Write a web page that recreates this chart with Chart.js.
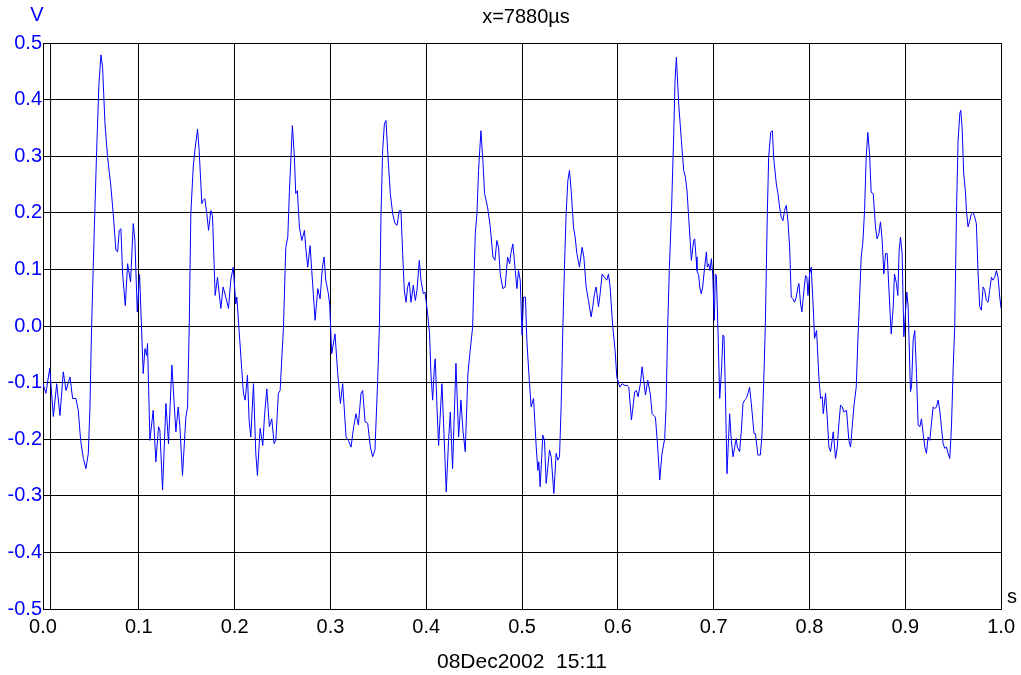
<!DOCTYPE html>
<html lang="en">
<head>
    <meta charset="UTF-8">
    <title>Scope trace</title>
    <script src="https://cdn.jsdelivr.net/npm/chart.js"></script>
    <style>
        body { margin: 0; background: #fff; }
    </style>
</head>
<body>
    <div style="width: 1021px; height: 675px;">
        <canvas id="grafico1" width="1021" height="675"></canvas>
    </div>

    <script>
        // time in seconds, voltage in volts
        const timeS = [
          0.000,0.003,0.0070,0.0108,0.0143,0.0177,0.0212,0.0240,0.0282,0.0309,0.0344,0.0368,0.0393,0.0421,0.0448,0.0473,0.0490,0.0507,0.0532,0.0560,0.0584,0.0605,0.0622,0.0647,0.0674,0.0706,0.0733,0.0761,0.0779,0.0796,0.0813,0.0831,0.0859,0.0883,0.0914,0.0942,0.0959,0.0984,0.1008,
          0.1046,0.1064,0.1081,0.1091,0.1116,0.1150,0.1178,0.1206,0.1220,0.1248,0.1283,0.1310,0.1345,0.1387,0.1411,0.1429,0.1456,0.1491,0.1509,0.1526,0.1543,0.1568,0.1585,0.1613,0.1630,0.1658,0.1672,0.1689,0.1710,0.1728,0.1752,0.1769,0.1797,0.1821,0.1856,0.1880,0.1908,0.1936,0.1960,0.1985,
          0.2012,0.2023,0.2047,0.2075,0.2092,0.2110,0.2134,0.2151,0.2169,0.2197,0.2221,0.2238,0.2266,0.2294,0.2311,0.2336,0.2363,0.2388,0.2412,0.2430,0.2457,0.2475,0.2510,0.2534,0.2555,0.2572,0.2603,0.2624,0.2638,0.2655,0.2676,0.2701,0.2729,0.2742,0.2763,0.2788,0.2805,0.2840,0.2868,0.2892,0.2916,0.2934,0.2951,0.2979,0.2993,
          0.3013,0.3048,0.3076,0.3104,0.3128,0.3163,0.3187,0.3215,0.3243,0.3267,0.3292,0.3319,0.3337,0.3361,0.3389,0.3417,0.3441,0.3465,0.3493,0.3511,0.3528,0.3545,0.3563,0.3580,0.3597,0.3625,0.3650,0.3674,0.3695,0.3719,0.3736,0.3754,0.3771,0.3789,0.3806,0.3823,0.3841,0.3865,0.3886,0.3903,0.3928,0.3945,0.3969,0.3987,
          0.4014,0.4035,0.4049,0.4067,0.4084,0.4094,0.4112,0.4129,0.4164,0.4181,0.4209,0.4233,0.4251,0.4275,0.4310,0.4338,0.4362,0.4383,0.4407,0.4435,0.4459,0.4484,0.4512,0.4529,0.4546,0.4571,0.4591,0.4609,0.4640,0.4668,0.4696,0.4717,0.4737,0.4755,0.4772,0.4800,0.4824,0.4849,0.4870,0.4883,0.4904,0.4929,0.4946,0.4963,0.4981,
          0.5000,0.5015,0.5036,0.5050,0.5071,0.5095,0.5120,0.5148,0.5165,0.5175,0.5189,0.5217,0.5234,0.5252,0.5287,0.5304,0.5332,0.5356,0.5373,0.5391,0.5408,0.5426,0.5443,0.5460,0.5478,0.5495,0.5513,0.5537,0.5554,0.5572,0.5599,0.5627,0.5645,0.5669,0.5693,0.5721,0.5738,0.5756,0.5773,0.5798,0.5815,0.5836,0.5860,0.5884,0.5902,0.5919,0.5947,0.5971,0.5989,
          0.6020,0.6044,0.6072,0.6096,0.6114,0.6142,0.6176,0.6194,0.6211,0.6235,0.6253,0.6270,0.6288,0.6312,0.6340,0.6357,0.6392,0.6416,0.6437,0.6461,0.6489,0.6503,0.6520,0.6538,0.6559,0.6583,0.6597,0.6611,0.6635,0.6663,0.6687,0.6705,0.6722,0.6739,0.6757,0.6767,0.6791,0.6802,0.6816,0.6826,0.6844,0.6854,0.6871,0.6885,0.6906,0.6924,0.6934,0.6948,0.6962,0.6976,0.6990,0.7007,
          0.7017,0.7028,0.7045,0.7063,0.7080,0.7097,0.7108,0.7122,0.7139,0.7167,0.7184,0.7202,0.7219,0.7236,0.7247,0.7271,0.7289,0.7306,0.7323,0.7341,0.7358,0.7375,0.7393,0.7421,0.7435,0.7462,0.7487,0.7504,0.7525,0.7539,0.7560,0.7574,0.7595,0.7612,0.7629,0.7654,0.7671,0.7688,0.7706,0.7723,0.7740,0.7758,0.7775,0.7793,0.7810,0.7827,0.7845,0.7862,0.7880,0.7890,0.7907,0.7921,0.7942,0.7959,0.7973,0.7984,0.8001,
          0.8018,0.8039,0.8053,0.8074,0.8098,0.8116,0.8133,0.8144,0.8168,0.8185,0.8203,0.8220,0.8248,0.8272,0.8290,0.8307,0.8324,0.8342,0.8359,0.8387,0.8411,0.8429,0.8446,0.8463,0.8488,0.8505,0.8522,0.8540,0.8557,0.8575,0.8592,0.8609,0.8627,0.8644,0.8665,0.8689,0.8706,0.8724,0.8741,0.8759,0.8776,0.8794,0.8811,0.8828,0.8853,0.8874,0.8887,0.8908,0.8922,0.8936,0.8950,0.8967,0.8985,
          0.9016,0.9030,0.9054,0.9065,0.9082,0.9099,0.9117,0.9134,0.9152,0.9169,0.9186,0.9204,0.9221,0.9238,0.9256,0.9273,0.9291,0.9308,0.9325,0.9343,0.9360,0.9377,0.9395,0.9412,0.9430,0.9447,0.9464,0.9482,0.9499,0.9516,0.9534,0.9551,0.9569,0.9579,0.9593,0.9610,0.9627,0.9638,0.9655,0.9673,0.9690,0.9708,0.9725,0.9742,0.9760,0.9777,0.9794,0.9812,0.9829,0.9846,0.9864,0.9881,0.9899,0.9916,0.9933,0.9951,0.9968,0.9986,1.0000
        ]
        const voltV = [
          -0.102,-0.119,-0.075,-0.160,-0.102,-0.158,-0.081,-0.114,-0.090,-0.128,-0.128,-0.149,-0.202,-0.234,-0.252,-0.225,-0.143,-0.002,0.151,0.310,0.428,0.479,0.457,0.357,0.298,0.251,0.198,0.134,0.131,0.169,0.172,0.092,0.036,0.110,0.078,0.181,0.151,0.025,0.091,
          -0.084,-0.040,-0.052,-0.031,-0.202,-0.149,-0.240,-0.178,-0.184,-0.290,-0.137,-0.208,-0.069,-0.187,-0.143,-0.178,-0.264,-0.161,-0.143,-0.002,0.198,0.281,0.310,0.348,0.310,0.216,0.222,0.225,0.198,0.169,0.204,0.195,0.054,0.086,0.031,0.069,0.051,0.031,0.081,0.104,
          0.039,0.051,-0.008,-0.078,-0.119,-0.131,-0.087,-0.166,-0.196,-0.102,-0.225,-0.264,-0.181,-0.211,-0.161,-0.111,-0.178,-0.164,-0.208,-0.202,-0.119,-0.114,-0.002,0.139,0.157,0.239,0.354,0.298,0.234,0.239,0.175,0.151,0.169,0.139,0.104,0.142,0.098,0.010,0.066,0.048,0.104,0.122,0.081,0.057,0.036,
          -0.049,-0.014,-0.084,-0.137,-0.102,-0.196,-0.202,-0.214,-0.178,-0.155,-0.175,-0.119,-0.114,-0.169,-0.172,-0.214,-0.231,-0.219,-0.096,-0.002,0.198,0.310,0.357,0.363,0.310,0.234,0.198,0.181,0.178,0.204,0.204,0.128,0.063,0.042,0.069,0.078,0.042,0.072,0.045,0.063,0.116,0.081,0.057,0.060,
          0.022,-0.014,-0.084,-0.131,-0.075,-0.058,-0.143,-0.211,-0.102,-0.172,-0.293,-0.202,-0.152,-0.252,-0.066,-0.196,-0.131,-0.184,-0.222,-0.084,-0.043,-0.002,0.163,0.198,0.275,0.345,0.292,0.234,0.210,0.175,0.122,0.116,0.151,0.139,0.092,0.066,0.069,0.122,0.110,0.128,0.145,0.098,0.066,0.098,0.081,
          -0.016,0.051,0.051,-0.025,-0.084,-0.143,-0.128,-0.214,-0.255,-0.240,-0.284,-0.193,-0.202,-0.278,-0.219,-0.231,-0.296,-0.225,-0.237,-0.231,-0.143,-0.002,0.104,0.198,0.257,0.275,0.239,0.175,0.157,0.128,0.104,0.139,0.122,0.069,0.045,0.016,0.034,0.057,0.069,0.034,0.057,0.092,0.086,0.081,0.092,0.069,-0.002,-0.043,-0.090,
          -0.108,-0.102,-0.105,-0.105,-0.108,-0.166,-0.116,-0.114,-0.125,-0.102,-0.072,-0.096,-0.122,-0.096,-0.122,-0.155,-0.161,-0.214,-0.272,-0.225,-0.199,-0.143,-0.002,0.104,0.198,0.339,0.434,0.475,0.392,0.328,0.275,0.263,0.239,0.192,0.145,0.116,0.151,0.154,0.122,0.098,0.089,0.069,0.057,0.069,0.104,0.131,0.104,0.110,0.098,0.119,0.092,0.010,
          0.092,0.089,-0.008,-0.128,-0.084,-0.016,-0.019,-0.114,-0.261,-0.155,-0.202,-0.231,-0.214,-0.199,-0.214,-0.222,-0.184,-0.137,-0.131,-0.128,-0.119,-0.108,-0.137,-0.190,-0.190,-0.228,-0.228,-0.193,-0.084,-0.002,0.198,0.298,0.342,0.345,0.292,0.251,0.234,0.210,0.192,0.186,0.204,0.213,0.186,0.139,0.051,0.048,0.042,0.051,0.069,0.075,0.039,0.025,0.063,0.089,0.086,0.054,0.092,
          0.104,0.034,-0.022,-0.008,-0.090,-0.128,-0.125,-0.155,-0.119,-0.161,-0.214,-0.222,-0.187,-0.234,-0.214,-0.172,-0.140,-0.143,-0.152,-0.149,-0.202,-0.214,-0.178,-0.143,-0.108,-0.025,0.045,0.122,0.148,0.204,0.298,0.342,0.304,0.236,0.234,0.175,0.154,0.163,0.184,0.151,0.092,0.128,0.128,0.069,-0.014,0.034,0.092,0.075,0.054,0.134,0.157,0.128,-0.019,
          0.060,0.034,-0.116,-0.108,-0.025,-0.008,-0.084,-0.175,-0.178,-0.164,-0.190,-0.214,-0.225,-0.196,-0.202,-0.172,-0.143,-0.146,-0.143,-0.131,-0.149,-0.178,-0.208,-0.216,-0.214,-0.225,-0.234,-0.178,-0.078,-0.002,0.198,0.328,0.375,0.381,0.351,0.269,0.239,0.204,0.175,0.186,0.198,0.201,0.192,0.181,0.092,0.034,0.028,0.069,0.063,0.045,0.042,0.063,0.086,0.081,0.086,0.098,0.086,0.051,0.031
        ]

        const cursorT = 0.00788   // x=7880µs
        const titulo = "x=7880\u00b5s"
        const dataHora = "08Dec2002  15:11"

        const pontos = timeS.map((t, i) => ({ x: t, y: voltV[i] }))

        const fonte = "'Liberation Sans', Arial, sans-serif"

        // extra texts around the plot (unit labels, title, date)
        const textos = {
          id: 'textos',
          afterDraw(chart) {
            const c = chart.ctx
            const a = chart.chartArea
            c.save()
            c.textAlign = 'center'
            c.textBaseline = 'middle'
            c.font = "20px " + fonte
            c.fillStyle = '#0000ff'
            c.fillText('V', 37, 15)
            c.fillStyle = '#000'
            c.fillText('s', a.right + 11, a.bottom - 12)
            c.fillText(titulo, 526, 17)
            c.font = "21px " + fonte
            c.fillText(dataHora, 522, 662)
            c.restore()
          }
        }

        const ctx = document.getElementById('grafico1')

        let grafico1 = new Chart(ctx, {
          type: 'line',
          data: {
            datasets: [{
              data: pontos,
              borderColor: '#0000ff',
              borderWidth: 1,
              pointRadius: 0,
              tension: 0
            }, {
              data: [{ x: cursorT, y: -0.5 }, { x: cursorT, y: 0.5 }],
              borderColor: '#000',
              borderWidth: 1,
              pointRadius: 0
            }]
          },
          plugins: [textos],
          options: {
            responsive: false,
            animation: false,
            layout: { padding: { left: 0, right: 19, top: 43, bottom: 0 } },
            plugins: {
              legend: { display: false },
              tooltip: { enabled: false },
              title: { display: false }
            },
            scales: {
              x: {
                type: 'linear',
                min: 0,
                max: 1,
                ticks: {
                  stepSize: 0.1,
                  color: '#000',
                  padding: 6,
                  maxRotation: 0,
                  font: { family: fonte, size: 20 },
                  callback: v => Math.abs(v) < 1e-9 ? '0.0' : Number(v).toFixed(1)
                },
                grid: { color: '#000', lineWidth: 1, drawTicks: false },
                border: { color: '#000', width: 1 },
                afterFit: s => { s.height = 66 }
              },
              y: {
                min: -0.5,
                max: 0.5,
                ticks: {
                  stepSize: 0.1,
                  color: '#0000ff',
                  padding: 1,
                  font: { family: fonte, size: 20 },
                  callback: v => Math.abs(v) < 1e-9 ? '0.0' : Number(v).toFixed(1)
                },
                grid: { color: '#000', lineWidth: 1, drawTicks: false },
                border: { color: '#000', width: 1 },
                afterFit: s => { s.width = 43 }
              }
            }
          }
        })
    </script>
</body>
</html>
